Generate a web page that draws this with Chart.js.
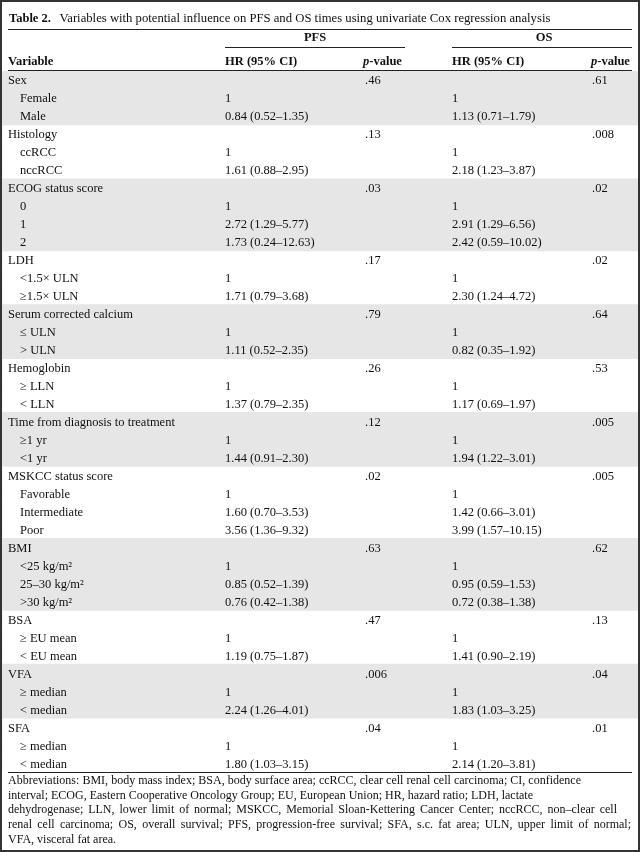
<!DOCTYPE html>
<html>
<head>
<meta charset="utf-8">
<script src="https://cdn.jsdelivr.net/npm/chart.js@4.4.1/dist/chart.umd.min.js"></script>
<style>
  html, body { margin: 0; padding: 0; background: #ffffff; }
  #wrap { position: relative; width: 640px; height: 852px; }
  canvas { display: block; }
</style>
</head>
<body>
<div id="wrap"><canvas id="c" width="640" height="852"></canvas></div>
<script>
// ---------- DATA ----------
const titleBold = "Table 2.";
const titleText = "Variables with potential influence on PFS and OS times using univariate Cox regression analysis";
const groupHeaders = ["PFS", "OS"];
const colHeaders = ["Variable", "HR (95% CI)", "p-value", "HR (95% CI)", "p-value"];

const variables = [
  "Sex", "Female", "Male",
  "Histology", "ccRCC", "nccRCC",
  "ECOG status score", "0", "1", "2",
  "LDH", "<1.5\u00d7 ULN", "\u22651.5\u00d7 ULN",
  "Serum corrected calcium", "\u2264 ULN", "> ULN",
  "Hemoglobin", "\u2265 LLN", "< LLN",
  "Time from diagnosis to treatment", "\u22651 yr", "<1 yr",
  "MSKCC status score", "Favorable", "Intermediate", "Poor",
  "BMI", "<25 kg/m\u00b2", "25\u201330 kg/m\u00b2", ">30 kg/m\u00b2",
  "BSA", "\u2265 EU mean", "< EU mean",
  "VFA", "\u2265 median", "< median",
  "SFA", "\u2265 median", "< median"
];
// 0 = variable heading, 1 = category
const levels = [0,1,1, 0,1,1, 0,1,1,1, 0,1,1, 0,1,1, 0,1,1, 0,1,1, 0,1,1,1, 0,1,1,1, 0,1,1, 0,1,1, 0,1,1];
// variable group index of each row
const groups = [0,0,0, 1,1,1, 2,2,2,2, 3,3,3, 4,4,4, 5,5,5, 6,6,6, 7,7,7,7, 8,8,8,8, 9,9,9, 10,10,10, 11,11,11];

const pfsHR = ["", "1", "0.84 (0.52\u20131.35)", "", "1", "1.61 (0.88\u20132.95)",
  "", "1", "2.72 (1.29\u20135.77)", "1.73 (0.24\u201312.63)", "", "1", "1.71 (0.79\u20133.68)",
  "", "1", "1.11 (0.52\u20132.35)", "", "1", "1.37 (0.79\u20132.35)", "", "1", "1.44 (0.91\u20132.30)",
  "", "1", "1.60 (0.70\u20133.53)", "3.56 (1.36\u20139.32)", "", "1", "0.85 (0.52\u20131.39)", "0.76 (0.42\u20131.38)",
  "", "1", "1.19 (0.75\u20131.87)", "", "1", "2.24 (1.26\u20134.01)", "", "1", "1.80 (1.03\u20133.15)"];
const pfsP = [".46","","", ".13","","", ".03","","","", ".17","","", ".79","","", ".26","","", ".12","","",
  ".02","","","", ".63","","","", ".47","","", ".006","","", ".04","",""];
const osHR = ["", "1", "1.13 (0.71\u20131.79)", "", "1", "2.18 (1.23\u20133.87)",
  "", "1", "2.91 (1.29\u20136.56)", "2.42 (0.59\u201310.02)", "", "1", "2.30 (1.24\u20134.72)",
  "", "1", "0.82 (0.35\u20131.92)", "", "1", "1.17 (0.69\u20131.97)", "", "1", "1.94 (1.22\u20133.01)",
  "", "1", "1.42 (0.66\u20133.01)", "3.99 (1.57\u201310.15)", "", "1", "0.95 (0.59\u20131.53)", "0.72 (0.38\u20131.38)",
  "", "1", "1.41 (0.90\u20132.19)", "", "1", "1.83 (1.03\u20133.25)", "", "1", "2.14 (1.20\u20133.81)"];
const osP = [".61","","", ".008","","", ".02","","","", ".02","","", ".64","","", ".53","","", ".005","","",
  ".005","","","", ".62","","","", ".13","","", ".04","","", ".01","",""];

const footnoteLines = [
  "Abbreviations: BMI, body mass index; BSA, body surface area; ccRCC, clear cell renal cell carcinoma; CI, confidence",
  "interval; ECOG, Eastern Cooperative Oncology Group; EU, European Union; HR, hazard ratio; LDH, lactate",
  "dehydrogenase; LLN, lower limit of normal; MSKCC, Memorial Sloan-Kettering Cancer Center; nccRCC, non\u2013clear cell",
  "renal cell carcinoma; OS, overall survival; PFS, progression-free survival; SFA, s.c. fat area; ULN, upper limit of normal;",
  "VFA, visceral fat area."
];

// shading: alternate variable groups
const shade = groups.map(g => (g % 2 === 0 ? 1 : 0));

// ---------- LAYOUT / STYLE ----------
const FONT = "'Liberation Serif', 'Times New Roman', serif";
const FS = 12.5;
const COLX = { variable: 8, indent: 20, pfsHR: 225, pfsP: 365, osHR: 452, osP: 592 };
const RULE_L = 8, RULE_R = 632;
const FOOT_RIGHT = [581, 533, 617, 631, null];

const tablePlugin = {
  id: 'tableText',
  afterDatasetsDraw(chart) {
    const ctx = chart.ctx;
    const y = chart.scales.y;
    ctx.save();
    ctx.fillStyle = '#111';
    ctx.textBaseline = 'alphabetic';
    ctx.textAlign = 'left';

    // title
    ctx.font = `bold ${FS}px ${FONT}`;
    ctx.fillText(titleBold, 9, 22);
    ctx.font = `12.7px ${FONT}`;
    ctx.fillText(titleText, 59.5, 22);

    // rules
    ctx.strokeStyle = '#222';
    ctx.lineWidth = 1.2;
    const hline = (x1, x2, yy) => { ctx.beginPath(); ctx.moveTo(x1, yy); ctx.lineTo(x2, yy); ctx.stroke(); };
    hline(RULE_L, RULE_R, 29.5);
    hline(COLX.pfsHR, 405, 47.5);
    hline(COLX.osHR, RULE_R, 47.5);
    hline(RULE_L, RULE_R, chart.chartArea.top - 0.5);
    hline(RULE_L, RULE_R, chart.chartArea.bottom + 0.5);

    // group headers
    ctx.font = `bold ${FS}px ${FONT}`;
    ctx.textAlign = 'center';
    ctx.fillText(groupHeaders[0], (COLX.pfsHR + 405) / 2, 41);
    ctx.fillText(groupHeaders[1], (COLX.osHR + RULE_R) / 2 + 2, 41);

    // column headers
    ctx.textAlign = 'left';
    const hy = 65;
    ctx.fillText(colHeaders[0], COLX.variable, hy);
    ctx.fillText(colHeaders[1], COLX.pfsHR, hy);
    ctx.fillText(colHeaders[3], COLX.osHR, hy);
    const drawP = (label, x) => {
      ctx.font = `italic bold ${FS}px ${FONT}`;
      ctx.fillText(label[0], x, hy);
      const w = ctx.measureText(label[0]).width;
      ctx.font = `bold ${FS}px ${FONT}`;
      ctx.fillText(label.slice(1), x + w, hy);
    };
    drawP(colHeaders[2], COLX.pfsP - 2);
    drawP(colHeaders[4], COLX.osP - 1);

    // body rows
    ctx.font = `${FS}px ${FONT}`;
    variables.forEach((v, i) => {
      const yy = y.getPixelForValue(i) + 4.5;
      ctx.fillText(v, levels[i] ? COLX.indent : COLX.variable, yy);
      if (pfsHR[i]) ctx.fillText(pfsHR[i], COLX.pfsHR, yy);
      if (pfsP[i]) ctx.fillText(pfsP[i], COLX.pfsP, yy);
      if (osHR[i]) ctx.fillText(osHR[i], COLX.osHR, yy);
      if (osP[i]) ctx.fillText(osP[i], COLX.osP, yy);
    });

    // footnote (word spacing stretched per line to match the ragged right edge)
    ctx.font = `12px ${FONT}`;
    footnoteLines.forEach((ln, k) => {
      const yy = 784 + k * 14.7;
      const target = FOOT_RIGHT[k];
      const words = ln.split(' ');
      const natural = ctx.measureText(ln).width;
      let extra = 0;
      if (target && words.length > 1 && 8 + natural < target) {
        extra = (target - 8 - natural) / (words.length - 1);
      }
      const sp = ctx.measureText(' ').width + extra;
      let x = 8;
      words.forEach(wd => {
        ctx.fillText(wd, x, yy);
        x += ctx.measureText(wd).width + sp;
      });
    });

    // outer frame
    ctx.strokeStyle = '#333';
    ctx.lineWidth = 2;
    ctx.strokeRect(1, 1, chart.width - 2, chart.height - 2);
    ctx.restore();
  }
};

new Chart(document.getElementById('c'), {
  type: 'bar',
  data: {
    labels: variables,
    datasets: [{
      label: 'shading',
      data: shade,
      backgroundColor: '#e6e6e6',
      borderWidth: 0,
      barPercentage: 1.0,
      categoryPercentage: 1.0,
      inflateAmount: 0.4
    }]
  },
  options: {
    indexAxis: 'y',
    responsive: false,
    animation: false,
    events: [],
    layout: { padding: { top: 71, bottom: 80, left: 2, right: 2 } },
    plugins: { legend: { display: false }, tooltip: { enabled: false }, title: { display: false } },
    scales: {
      x: { display: false, min: 0, max: 1 },
      y: { display: false, type: 'category', offset: true, grid: { display: false } }
    }
  },
  plugins: [tablePlugin]
});
</script>
</body>
</html>
